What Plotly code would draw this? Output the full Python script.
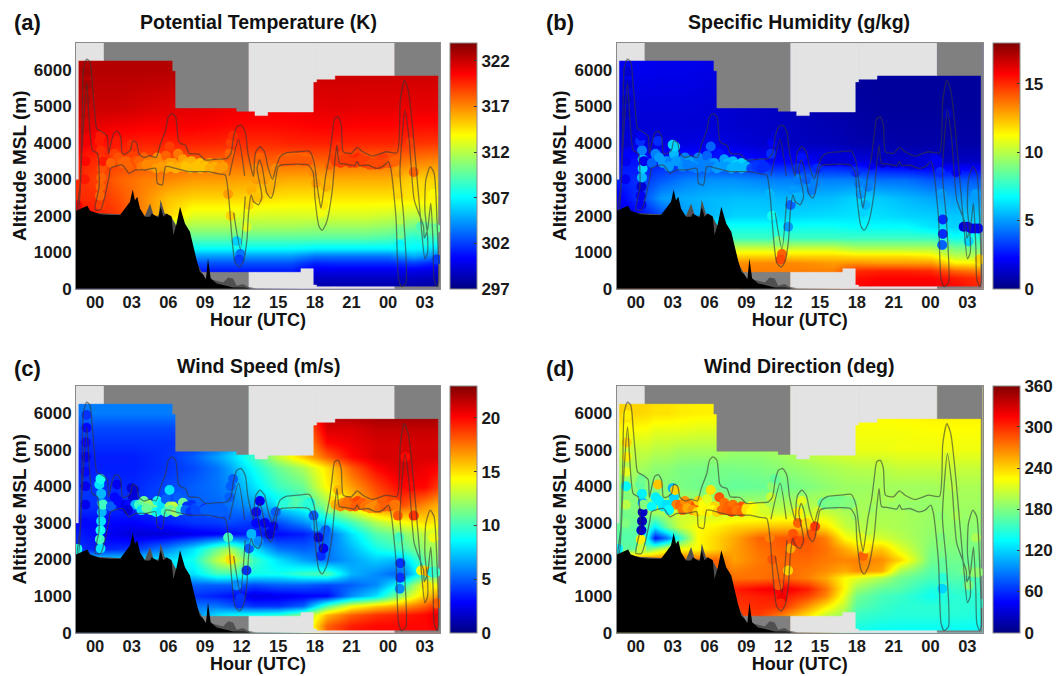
import plotly.graph_objects as go

W, H = 1058, 676
JET = [[0, "rgb(0,0,128)"], [0.125, "rgb(0,0,255)"], [0.375, "rgb(0,255,255)"],
       [0.625, "rgb(255,255,0)"], [0.875, "rgb(255,0,0)"], [1, "rgb(128,0,0)"]]

HOUR_TICKS = [0, 3, 6, 9, 12, 15, 18, 21, 24, 27]
HOUR_LABELS = ["00", "03", "06", "09", "12", "15", "18", "21", "00", "03"]
ALT_TICKS = [0, 1000, 2000, 3000, 4000, 5000, 6000]
X_RANGE = [-1.56, 28.25]
Y_RANGE = [0, 6750]

# day / night bands: start, end, colour
BANDS = [(-1.56, 0.74, "#e3e3e3"), (0.74, 12.6, "#808080"), (12.6, 24.55, "#e3e3e3"), (24.55, 28.25, "#808080")]
# sampled domain: start hour, end hour, top altitude, bottom altitude
DOMAIN = [(-1.37, 6.36, 6260, 0), (6.36, 6.6, 5980, 0), (6.6, 8.5, 4960, 0), (8.5, 11.6, 4960, 450),
          (11.6, 13.1, 4870, 450), (13.1, 14.13, 4750, 450), (14.13, 16.86, 4850, 450),
          (16.86, 17.87, 4850, 550), (17.87, 18.14, 5675, 100), (18.14, 19.64, 5750, 55), (19.64, 28.12, 5850, 55)]

TERRAIN_T = [-1.56, -0.63, -0.41, 0.41, 1.23, 2.05, 2.45, 2.86, 3.08, 3.27, 3.46, 3.68, 4.09, 4.5, 4.64, 5.18, 5.37,
             5.59, 5.86, 6.27, 6.41, 6.68, 6.96, 7.36, 7.77, 8.05, 8.32, 8.59, 8.87, 9.08, 9.25, 9.47, 9.96, 11.32,
             12.14, 12.96]
TERRAIN_A = [2140, 2275, 2140, 2040, 2020, 2020, 2200, 2385, 2725, 2430, 2520, 2200, 1975, 1975, 2065, 1955, 2250,
             1975, 2065, 1975, 1470, 1790, 2250, 1790, 1560, 1150, 785, 465, 375, 255, 830, 285, 145, 35, 35, 0]
RIDGE_T = [-1.56, 0.41, 2.0, 4.09, 4.5, 4.8, 5.2, 5.37, 5.7, 6.2, 9.0, 9.96, 10.5, 10.9, 11.3, 11.6, 12.1, 12.6, 13.2, 17]
RIDGE_A = [2140, 2070, 2040, 2000, 2340, 2000, 2000, 2440, 2060, 2000, 300, 230, 170, 310, 280, 80, 130, 40, 10, 0]

# closed outline of the flight-track tube
TRACK_T = [-1.45, -1.23, -1.06, -0.95, -0.68, -0.41, -0.22, -0.03, 0.14, 0.6, 1.0, 1.1, 1.36, 1.55, 1.83, 2.1, 2.24,
           2.5, 2.9, 3.1, 3.4, 3.6, 4.0, 4.5, 5.0, 5.37, 5.78, 6.0, 6.27, 6.6, 6.82, 7.0, 7.42, 7.7, 8.49, 9.03, 9.85,
           10.8, 11.13, 11.35, 11.62, 11.97, 12.3, 12.52, 12.98, 13.06, 13.17, 13.52, 13.88, 14.15, 14.53, 14.8, 15.16,
           15.7, 16.65, 17.55, 17.93, 18.2, 18.5, 18.7, 18.9, 19.21, 19.4, 19.62, 19.89, 20.16, 20.33, 20.98, 21.47,
           21.93, 22.75, 23.83, 24.73, 25.0, 25.33, 25.65, 26.0, 26.41, 26.74, 27.01, 27.23, 27.23, 27.01, 27.09, 27.45,
           27.77, 27.99, 28.12, 27.99, 27.77, 27.69, 27.5, 27.23, 26.96, 26.9, 26.14, 25.73, 25.38, 24.97, 25.27, 25.46,
           25.11, 24.86, 24.65, 24.24, 24.02, 23.56, 23.02, 22.34, 21.66, 21.47, 21.25, 20.57, 20.02, 19.81, 19.62, 19.4,
           18.94, 18.59, 18.34, 18.0, 17.88, 17.47, 15.3, 15.0, 14.6, 14.4, 14.07, 13.71, 13.47, 13.27, 13.66, 13.39,
           12.98, 12.79, 12.57, 12.44, 12.16, 11.84, 11.48, 11.2, 10.94, 10.66, 10.12, 9.3, 8.78, 7.69, 6.6, 5.78, 5.51,
           5.1, 4.96, 4.15, 3.33, 2.78, 2.24, 1.28, 1.15, 0.74, 0.46, 0.0, 0.33, 0.19, -0.22, -0.68, -1.04, -1.36, -1.45]
TRACK_A = [2170, 2850, 4670, 6030, 6300, 6215, 5580, 4850, 4395, 4300, 4186, 3700, 4077, 4277, 4322, 4168, 3713,
           3700, 3800, 4060, 4000, 3700, 3600, 3650, 3600, 3986, 4350, 4714, 4805, 4714, 4077, 3986, 3940, 3713, 3695,
           3530, 3550, 3576, 3713, 4168, 4440, 4486, 4304, 3713, 3076, 3530, 3758, 3895, 3758, 3349, 3003, 3303, 3622,
           3731, 3758, 3776, 3485, 2803, 2211, 2620, 3121, 3667, 4168, 4668, 4714, 4486, 3758, 3713, 3877, 3758, 3640,
           3758, 3731, 5170, 5715, 5440, 4440, 2890, 1620, 819, 983, 1438, 2166, 2985, 3349, 3167, 1984, 164, 55, 255,
           1165, 2348, 1620, 1392, 1711, 2439, 4077, 4896, 3167, 1984, 164, 55, 255, 1938, 3258, 3485, 3349, 3303, 3394,
           3376, 3490, 3376, 3421, 3440, 3940, 3421, 2620, 1802, 1600, 1711, 2530, 3167, 3394, 3394, 3349, 2620, 2484,
           2620, 3303, 3531, 3303, 2530, 2302, 2393, 2575, 2075, 1347, 755, 591, 710, 1438, 2530, 3121, 3149, 3212,
           3212, 3212, 3303, 3349, 2848, 2894, 3303, 3258, 3258, 3167, 3394, 3303, 3076, 2439, 2166, 2166, 2803, 3713,
           3800, 5624, 3986, 2166, 2170]
# short inner lines where two flights overlap near 12 UTC
INNER_T = [11.0, 11.75, 12.25, None, 11.35, 11.9, 12.3]
INNER_A = [3100, 4090, 3100, None, 2090, 1090, 2530]

OBS_T = [-1.45, -0.85, -0.8, -0.8, -0.8, -0.75, -0.75, -0.7, -0.7,
         .45, .4, .45, .5, .55, .55, .5, .35, .45, .65,
         1.3, 1.6, 1.8, 1.9, 2.2, 2.5, 2.8, 3.0, 3.1, 3.3, 3.2, 2.7,
         3.6, 4.0, 4.4, 4.8, 5.1, 5.5, 5.8, 6.1, 6.1, 6.4, 6.8, 7.2, 7.5, 7.9, 8.2, 8.6, 9.0, 9.4, 9.8, 10.2,
         11.0, 11.1, 11.3, 11.6, 11.9, 11.8, 11.1, 10.9, 12.4, 12.6,
         12.8, 13.0, 13.2, 13.5, 13.9, 14.3, 14.6, 14.8, 13.2, 13.4,
         15.2, 15.6, 16, 16.4, 16.8, 17.2, 17.6,
         17.9, 18.1, 18.3, 18.5, 18.7, 18.9, 19.2,
         19.5, 19.9, 20.3, 20.7, 21.1, 21.5, 21.9, 22.3, 22.7, 23.1, 23.5, 23.9, 24.3, 24.6,
         24.8, 24.9, 25, 25, 24.95, 25.4, 25.8, 26.1, 26.7, 27, 27.1, 27.3, 27.6, 27.9, 27.7, 28.0,
         3.8, 4.2, 4.6, 5.0, 5.4, 5.8, 6.2, 6.6, 7.0, 7.4, 7.8, 8.2, 8.6, 9.0, 9.4, 9.8, 10.2, 10.5,
         15.4, 15.8, 16.2, 16.6, 17.0, 17.4, 19.7, 20.1, 20.5, 20.9, 21.3, 21.7, 22.1, 22.5, 22.9, 23.3, 23.7, 24.1, 24.5]
OBS_A = [2290, 3000, 3500, 4000, 4400, 4800, 5200, 5600, 5950,
         2300, 2550, 2800, 3050, 3300, 3550, 3800, 4050, 4200, 3500,
         3450, 3700, 4050, 3600, 3450, 3500, 3500, 3950, 3700, 3500, 3900, 3350,
         3500, 3600, 3500, 3450, 3600, 3500, 3650, 3900, 3450, 3450, 3700, 3550, 3450, 3500, 3400, 3450, 3400, 3450, 3400, 3450,
         3700, 4000, 4200, 1300, 950, 800, 2000, 2600, 1700, 2300,
         2700, 2500, 3000, 3600, 3000, 2700, 2900, 3300, 3300, 2500,
         3550, 3600, 3600, 3600, 3600, 3600, 3550,
         3200, 2900, 2600, 2100, 2300, 2800, 3400,
         3600, 3900, 3550, 3600, 3550, 3600, 3550, 3500, 3450, 3500, 3600, 3550, 3600, 3500,
         3200, 2600, 1900, 1500, 1200, 4800, 4000, 3200, 1700, 1700, 1300, 1650, 1650, 1650, 2600, 800,
         3350, 3400, 3350, 3300, 3350, 3300, 3350, 3300, 3350, 3350, 3300, 3350, 3300, 3350, 3300, 3350, 3300, 3350,
         3500, 3500, 3500, 3550, 3500, 3500, 3500, 3450, 3500, 3450, 3450, 3500, 3450, 3400, 3400, 3400, 3450, 3450, 3500]
OBS_THETA = [321, 320, 320.5, 321, 321.5, 322, 322.5, 323, 323,
             319, 318, 318, 318, 318.5, 319, 319.5, 320, 320, 320,
             318, 319, 320, 318.5, 318, 318, 318, 319.5, 319, 318.5, 319.5, 318,
             318, 318, 317.5, 317, 317, 317, 318, 319, 316.5, 316.5, 317.5, 316.5, 316, 316, 316, 315.5, 316, 316.5, 317, 317,
             318, 319, 319.5, 306, 303.5, 302, 315, 316.5, 313, 315,
             316, 315.5, 316.5, 318, 316.5, 316, 316, 317, 317, 315.5,
             318, 318, 318, 318, 318, 318, 318,
             317, 316.5, 315, 313.5, 314.5, 316, 318,
             319, 319.5, 319, 319, 319.3, 319.5, 319, 319, 318.8, 318.8, 319, 319, 318.5, 318,
             316.5, 315, 312, 310, 307, 321, 319, 318, 309, 310, 308, 310, 310, 310, 314, 302,
             317.5, 317, 317, 316.5, 316.5, 316.5, 316, 316, 316, 315.5, 315.5, 315.5, 315.5, 315.5, 316, 316, 316.5, 316.5,
             318.3, 318.3, 318.3, 318.3, 318.3, 318.3, 319, 319, 319, 319, 319, 319, 319, 318.7, 318.7, 318.7, 318.7, 318.5, 318]
OBS_Q = [2, 2, 2, 1.5, 1.5, 1.2, 1.2, 1.3, 1.5,
         2, 2, 1.5, 5.5, 6, 5.5, 4.5, 3, 2, 2,
         4, 4.5, 3, 5, 5, 5, 4.5, 6, 5.5, 5, 6, 5,
         5, 4.5, 5, 5, 4.5, 4.5, 4, 4, 4.5, 5, 2.5, 5, 5.5, 5.5, 6, 6, 6, 3, 3, 3,
         3, 2, 1.5, 9, 14, 14.5, 7, 5.5, 5, 4,
         5, 5.5, 4.5, 2.5, 4, 4.5, 4.5, 3, 3, 5.5,
         1.5, 1.5, 1.5, 1.5, 1.5, 1.5, 1.7,
         3, 4.5, 5, 6, 5.5, 4.5, 2,
         1, 1, 1, 1, 1.2, 1.2, 1.2, 1.2, 1.5, 1.5, 1.5, 1.5, 1.7, 2,
         3, 5, 3, 3, 4, 1, 1, 2, 1.5, 2, 6, 2, 2, 2, 5, 12,
         4.8, 4.5, 4.5, 4.5, 4.5, 4.5, 4.5, 5, 5, 5, 5.5, 5.5, 5.5, 5.5, 3.5, 3.2, 3, 3,
         1.5, 1.5, 1.5, 1.5, 1.5, 1.5, 1.2, 1.2, 1.2, 1.2, 1.3, 1.3, 1.3, 1.5, 1.5, 1.5, 1.5, 1.7, 2]
OBS_SPEED = [9, 3, 2.5, 2.5, 3, 2.5, 3, 3, 4,
             8, 10, 9, 8, 7, 6, 7, 8, 9, 10,
             5, 3, 2.5, 3, 3, 2.5, 3, 2, 2, 7, 2, 2,
             10, 11, 12, 12, 9, 8, 5, 8, 12, 13, 5, 11, 4, 4, 4.5, 5, 4, 5, 5, 5,
             5, 5, 5, 6, 4, 4, 15, 10, 4, 5,
             7, 7, 3, 2.5, 2.5, 2, 2.5, 5, 3, 6,
             9, 9.5, 10, 10.5, 10, 10, 9,
             5, 7, 2, 4, 2.5, 5, 12,
             15, 16, 17, 17.5, 18, 18.5, 18, 17.5, 17, 17, 18, 18, 18.5, 17,
             18, 10, 4, 4, 6, 20, 20, 19, 14, 15, 15, 16, 9, 10, 14, 18,
             8, 11, 11, 9, 8, 10, 11, 12, 10, 5, 4, 4.5, 4.5, 5, 5, 5, 5, 5,
             9.5, 9.5, 10, 10.5, 10, 9.5, 16, 17, 17.5, 17.5, 18, 18, 17.5, 17, 17, 17.5, 18, 18, 17.5]
OBS_DIR = [130, 180, 200, 135, 215, 230, 240, 225, 230,
           205, 230, 25, 20, 25, 110, 130, 170, 175, 180,
           135, 130, 245, 130, 130, 125, 125, 110, 120, 270, 240, 135,
           280, 265, 270, 285, 240, 225, 215, 235, 220, 240, 285, 275, 280, 275, 280, 285, 240, 225, 225, 210,
           205, 185, 170, 285, 320, 300, 285, 270, 240, 255,
           285, 295, 280, 215, 240, 285, 295, 210, 230, 290,
           170, 175, 175, 175, 175, 180, 180,
           190, 200, 215, 280, 230, 200, 190,
           195, 195, 195, 195, 195, 190, 190, 190, 188, 188, 188, 188, 188, 188,
           185, 180, 170, 150, 120, 210, 200, 195, 175, 180, 180, 180, 185, 185, 195, 150,
           275, 255, 265, 240, 225, 230, 225, 240, 275, 280, 285, 275, 280, 235, 225, 220, 215, 210,
           175, 178, 178, 178, 180, 182, 192, 192, 192, 190, 190, 190, 188, 188, 188, 188, 188, 188, 188]

GRID_T_AB = [-1.5, 0, 2, 4, 6, 8, 10, 12, 14, 16, 18, 20, 22, 24, 26, 28.3]
GRID_A_AB = [0, 300, 500, 700, 900, 1100, 1400, 1700, 2000, 2500, 3000, 3500, 4000, 4500, 5000, 6000, 6750]
THETA = [
    [300, 300, 300, 300, 300, 300, 299.5, 299.5, 299.5, 299.5, 298, 298, 298, 298, 298, 297.8],
    [300.5, 300.5, 300.5, 300.5, 300.5, 300.5, 300.2, 300.2, 300.2, 300.2, 298.8, 298.8, 298.8, 298.8, 298.8, 298.5],
    [301, 301, 301, 301, 301, 301, 301, 301, 301, 301, 299.8, 299.8, 299.8, 299.8, 299.8, 299.5],
    [302.5, 302.5, 302.5, 302.5, 302.5, 302.5, 302.5, 302.5, 302.5, 302.5, 301.3, 301.5, 301.5, 301.5, 302, 301],
    [304.5, 304.5, 304.5, 304.5, 304.5, 304.5, 304.5, 304.5, 304.5, 304.5, 303.5, 303.5, 303.5, 303.5, 305, 303.5],
    [307, 307, 307, 307, 307, 307, 307, 307, 307, 307, 306.7, 306.7, 306.7, 306.7, 307, 306],
    [309.5, 309.5, 309.5, 309.5, 309.5, 309.5, 309.5, 309.5, 309.5, 309.5, 309.5, 309.5, 309.5, 309.2, 308, 309],
    [311.5, 311.5, 311.5, 311.5, 311.5, 311.5, 311.5, 311.5, 311.5, 311.5, 311.3, 311.3, 311.3, 311, 310, 311],
    [320.5, 320, 319, 317, 315, 313, 313, 313, 312.8, 312.8, 312.8, 312.8, 312.8, 312.5, 312, 312.5],
    [319.5, 319.5, 318.5, 317, 315.5, 315, 315, 315, 314.7, 314.5, 314.5, 314.5, 314.5, 314.5, 314.5, 314],
    [319.5, 319, 318, 317.3, 317, 316.5, 316.5, 316.3, 316.2, 316, 316, 316, 316, 316, 315, 315],
    [320, 319.5, 319, 318.5, 318.5, 318.2, 318, 318, 318, 318, 318, 318, 317.8, 317.8, 317.3, 317],
    [321, 320.5, 320, 319.8, 319.8, 319.8, 319.7, 319.5, 319.5, 319.7, 319.8, 319.8, 319.7, 319.7, 319.3, 319.2],
    [321.5, 321.3, 321, 320.8, 320.8, 320.8, 320.6, 320.4, 320.4, 320.5, 320.7, 320.7, 320.6, 320.6, 320.4, 320.4],
    [322, 322, 322, 321.7, 321.5, 321.4, 321.3, 321, 321, 321, 321.3, 321.4, 321.3, 321.3, 321.2, 321.2],
    [322.6, 322.6, 322.6, 322.6, 322.6, 322.6, 322.3, 322.1, 322, 322, 322, 322, 322, 322, 322, 322],
    [322.6, 322.6, 322.6, 322.6, 322.6, 322.6, 322.3, 322.1, 322, 322, 322, 322, 322, 322, 322, 322],
]
HUMID = [
    [15, 15, 15, 15, 15, 14, 14, 14, 14, 14, 15.8, 16, 16, 16, 15.8, 15],
    [14.5, 14.5, 14.5, 14.5, 14.5, 14.5, 13.8, 13.8, 13.8, 13.8, 15.5, 15.7, 15.7, 15.7, 15.3, 14.8],
    [13.5, 13.5, 13.5, 13.5, 13.5, 13.5, 13.5, 13.5, 13.5, 13.5, 15, 15.2, 15.2, 15, 14, 13.5],
    [13.2, 13.2, 13.2, 13.2, 13.2, 13.2, 13.3, 13.4, 13.2, 13, 13.2, 13, 13, 13, 11.5, 11.5],
    [12, 12, 12, 12, 12, 12, 12, 12, 12, 12, 11.8, 11.8, 11.8, 11.5, 10, 10],
    [10.5, 10.5, 10.5, 10.5, 10.5, 10.5, 10.5, 10.5, 10.5, 10.5, 10, 10, 10, 10, 9, 9],
    [7.8, 7.8, 7.8, 7.8, 7.8, 7.8, 7.8, 7.8, 7.8, 7.8, 7.8, 7.8, 7.8, 7.8, 7, 7.5],
    [7, 7, 7, 7, 7, 7, 7, 7, 7, 7, 6.8, 6.8, 6.8, 6.3, 6, 6],
    [1.5, 2, 3.5, 5, 5.5, 6, 6, 6, 6.1, 6.2, 6.3, 6.2, 6, 5.9, 5.8, 5.8],
    [2, 3, 5, 5.3, 5.5, 5.6, 5.6, 5.5, 5.5, 5.6, 6, 5.8, 5.5, 5.2, 5, 5],
    [2.8, 3, 3.8, 4.5, 4.8, 4.8, 4.6, 4.5, 4.5, 4.5, 4.5, 4.2, 4.2, 3.8, 3.8, 3.8],
    [2.5, 2.5, 2.7, 2.8, 2.8, 2.6, 2.3, 2.2, 2.1, 2, 1.7, 1.5, 1.3, 1.2, 1.2, 1.2],
    [1.7, 1.7, 1.7, 1.7, 1.8, 1.6, 1.4, 1.2, 1.1, 1, .8, .8, .7, .7, .7, .7],
    [1.5, 1.5, 1.5, 1.5, 1.5, 1.4, 1.3, 1.2, 1, .9, .7, .6, .6, .6, .6, .6],
    [1.6, 1.6, 1.6, 1.6, 1.5, 1.4, 1.3, 1.1, .9, .8, .6, .5, .5, .5, .5, .5],
    [2, 2, 1.9, 1.9, 1.8, 1.5, 1.2, .9, .8, .7, .5, .5, .5, .5, .5, .5],
    [2, 2, 1.9, 1.9, 1.8, 1.5, 1.2, .9, .8, .7, .5, .5, .5, .5, .5, .5],
]

GRID_T_C = [-1.5, 0, 3, 6, 8, 10, 11, 13, 15, 17, 19, 21, 23, 25, 27, 28.3]
GRID_A_C = [0, 200, 500, 750, 1000, 1300, 1600, 2000, 2300, 2700, 3000, 3500, 4000, 4500, 4800, 5200, 5600, 6000, 6750]
SPEED = [
    [5, 5, 5, 5, 6, 8, 8, 9, 9, 11, 18, 19.5, 20, 20, 20, 20],
    [5, 5, 5, 5, 6, 8, 8.5, 9, 9.5, 12, 18, 19.5, 20, 20, 20, 20.5],
    [5, 5, 5, 5, 6, 8, 8.5, 9, 9.5, 11.5, 16, 18, 19, 19.5, 20, 21],
    [5, 5, 5, 5, 5.5, 5.5, 5, 4, 4, 5, 10.5, 14, 15.5, 16.5, 18, 19.5],
    [5, 5, 5, 5, 4, 3.5, 3.2, 2.2, 2.5, 2.8, 3, 6, 8, 12, 15.5, 17],
    [6, 6, 6, 6, 5, 5, 5, 4.5, 5, 5, 4.5, 5, 6, 9, 14.5, 14],
    [8, 8, 8, 8, 8, 10, 10, 9, 9, 10, 10.5, 7, 6, 5, 10, 11],
    [8, 8, 8, 8, 9, 13, 14.5, 10, 8, 6.5, 5.5, 6.5, 7.5, 7, 11, 12],
    [4, 3.5, 4, 6, 8, 11, 12.5, 8, 5.5, 5, 5.5, 7, 9, 10, 12, 12.5],
    [3.5, 3, 2, 2, 2.5, 2.8, 3, 3.5, 3, 3.5, 5, 8, 10.5, 11.5, 13, 13.5],
    [3, 3, 2.8, 3.5, 4, 4.2, 4.5, 4, 4.5, 6, 8, 10, 12.5, 14, 15, 14.5],
    [4, 4, 4, 4.5, 5, 5.2, 5.5, 6.5, 8, 9.5, 12, 15, 17.5, 18.5, 17, 16],
    [4, 4, 3.7, 4.5, 5, 5.5, 6, 8, 10, 11, 14.5, 16.5, 18.5, 20, 20, 18.5],
    [3.5, 3.5, 3.5, 4, 4.5, 5.5, 6.5, 9, 11, 12.5, 15, 18, 20, 21, 20.5, 20],
    [3.5, 3.5, 3.5, 4, 5, 6.5, 7.5, 10, 13, 15.5, 18, 20, 21, 21, 21, 21],
    [4, 4, 4, 4, 4, 5, 6, 8, 12, 16, 20, 20.5, 21, 21, 21, 21],
    [4.5, 4.5, 4.5, 4.5, 4.5, 5, 6, 8, 12, 17, 21, 21, 21.5, 21.5, 21.5, 21.5],
    [5.5, 5.7, 5.7, 5.7, 5.7, 6, 6, 8, 12, 17, 22, 22.2, 22.5, 22.5, 22.5, 22.5],
    [5.5, 5.7, 5.7, 5.7, 5.7, 6, 6, 8, 12, 17, 22, 22.2, 22.5, 22.5, 22.5, 22.5],
]

GRID_T_D = [-1.5, 0, 1, 1.5, 2.5, 3.5, 5, 6.5, 8, 10, 12, 14, 15.5, 17, 18, 20, 21.5, 24, 26, 28.3]
GRID_A_D = [0, 500, 700, 1000, 1200, 1500, 1700, 2000, 2300, 2600, 2900, 3300, 4000, 4500, 5000, 5500, 6000, 6750]
DIRECTION = [
    [230, 230, 230, 230, 230, 230, 230, 260, 290, 295, 290, 250, 215, 165, 140, 135, 135, 135, 135, 135],
    [280, 280, 280, 280, 280, 280, 280, 280, 290, 295, 270, 235, 205, 190, 155, 150, 148, 148, 148, 145],
    [280, 280, 280, 280, 280, 280, 280, 280, 295, 300, 295, 260, 230, 200, 165, 155, 150, 150, 150, 148],
    [280, 280, 280, 280, 280, 280, 280, 280, 300, 305, 308, 292, 268, 215, 175, 160, 155, 140, 150, 150],
    [280, 280, 280, 280, 280, 280, 280, 280, 305, 315, 322, 305, 275, 225, 190, 170, 165, 145, 155, 155],
    [280, 280, 280, 280, 280, 280, 280, 280, 275, 275, 280, 270, 255, 225, 215, 195, 175, 160, 165, 160],
    [280, 280, 280, 280, 280, 280, 280, 280, 270, 275, 278, 272, 265, 255, 265, 255, 195, 165, 170, 170],
    [280, 280, 280, 280, 280, 280, 280, 280, 258, 272, 278, 278, 272, 268, 270, 265, 240, 175, 175, 175],
    [170, 170, 175, 190, 215, 225, 225, 240, 258, 275, 282, 283, 275, 255, 240, 245, 215, 180, 180, 178],
    [165, 165, 130, 50, 85, 145, 225, 240, 255, 280, 285, 285, 270, 225, 215, 210, 200, 185, 185, 180],
    [170, 170, 160, 130, 175, 205, 225, 230, 240, 245, 248, 248, 235, 205, 198, 198, 195, 188, 186, 185],
    [175, 180, 190, 195, 200, 210, 205, 205, 205, 205, 205, 205, 205, 195, 195, 195, 195, 190, 190, 190],
    [185, 185, 180, 180, 180, 178, 175, 175, 170, 172, 175, 180, 185, 190, 190, 192, 192, 192, 195, 195],
    [195, 195, 190, 185, 185, 180, 178, 178, 178, 180, 185, 190, 195, 198, 200, 200, 205, 205, 205, 205],
    [210, 205, 205, 200, 200, 195, 195, 195, 190, 190, 195, 205, 210, 215, 218, 218, 220, 220, 220, 220],
    [225, 222, 220, 215, 215, 215, 212, 212, 212, 212, 212, 215, 218, 220, 222, 222, 222, 224, 224, 224],
    [240, 240, 238, 235, 235, 232, 230, 230, 228, 228, 226, 226, 226, 226, 226, 226, 228, 230, 230, 230],
    [240, 240, 238, 235, 235, 232, 230, 230, 228, 228, 226, 226, 226, 226, 226, 226, 228, 230, 230, 230],
]

PANELS = [
    dict(tag="(a)", title="Potential Temperature (K)", x=GRID_T_AB, y=GRID_A_AB, z=THETA, obs=OBS_THETA,
         zmin=297, zmax=324, ticks=[297, 302, 307, 312, 317, 322], left=76, right=440, top=42.7, bottom=288.7,
         cb=450, tagx=12, tagy=22, titlex=258, titley=22),
    dict(tag="(b)", title="Specific Humidity (g/kg)", x=GRID_T_AB, y=GRID_A_AB, z=HUMID, obs=OBS_Q,
         zmin=0, zmax=18, ticks=[0, 5, 10, 15], left=616.7, right=982.7, top=42.7, bottom=288.7,
         cb=993, tagx=544, tagy=22, titlex=799, titley=22),
    dict(tag="(c)", title="Wind Speed (m/s)", x=GRID_T_C, y=GRID_A_C, z=SPEED, obs=OBS_SPEED,
         zmin=0, zmax=23, ticks=[0, 5, 10, 15, 20], left=76, right=440, top=385.7, bottom=632.7,
         cb=450, tagx=12, tagy=369, titlex=258, titley=366),
    dict(tag="(d)", title="Wind Direction (deg)", x=GRID_T_D, y=GRID_A_D, z=DIRECTION, obs=OBS_DIR,
         zmin=0, zmax=360, ticks=[0, 60, 120, 180, 240, 300, 360], left=616.7, right=982.7, top=385.7, bottom=632.7,
         cb=993, tagx=544, tagy=369, titlex=799, titley=366),
]

FONT = "Liberation Sans, Arial, sans-serif"
TICKFONT = dict(family=FONT, size=17, color="#1a1a1a", weight="bold")
XTICKFONT = dict(family=FONT, size=16.5, color="#1a1a1a", weight="bold")
fig = go.Figure()
layout = {}
annotations = []


def band_mask(b0, b1, color, suffix):
    xs, ys = [], []

    def rect(x0, x1, y0, y1):
        a, c = max(x0, b0), min(x1, b1)
        if c > a and y1 > y0:
            xs.extend([a, c, c, a, a, None])
            ys.extend([y0, y0, y1, y1, y0, None])

    for s0, s1, top, bot in DOMAIN:
        rect(s0, s1, top, Y_RANGE[1])
        rect(s0, s1, 0, bot)
    rect(X_RANGE[0], DOMAIN[0][0], 3000, Y_RANGE[1])
    rect(DOMAIN[-1][1], X_RANGE[1], 0, Y_RANGE[1])
    return go.Scatter(x=xs, y=ys, mode="lines", fill="toself", fillcolor=color, line=dict(width=0.5, color=color),
                      hoverinfo="skip", showlegend=False, xaxis="x" + suffix, yaxis="y" + suffix)


for i, p in enumerate(PANELS):
    s = "" if i == 0 else str(i + 1)
    fig.add_trace(go.Heatmap(
        x=p["x"], y=p["y"], z=p["z"], zmin=p["zmin"], zmax=p["zmax"], colorscale=JET, zsmooth="best",
        hoverinfo="skip", xaxis="x" + s, yaxis="y" + s,
        colorbar=dict(x=p["cb"] / W, xanchor="left", xpad=0, ypad=0, thickness=27, thicknessmode="pixels",
                      y=1 - p["bottom"] / H, yanchor="bottom", len=(p["bottom"] - p["top"]) / H, lenmode="fraction",
                      tickvals=p["ticks"], ticks="inside", ticklen=3, tickcolor="#333333", tickwidth=1,
                      outlinecolor="#8a8a8a", outlinewidth=1, tickfont=TICKFONT)))
    for b0, b1, col in BANDS:
        fig.add_trace(band_mask(b0, b1, col, s))
    fig.add_trace(go.Scatter(x=OBS_T, y=OBS_A, mode="markers", hoverinfo="skip", showlegend=False,
                             xaxis="x" + s, yaxis="y" + s,
                             marker=dict(size=10, color=p["obs"], cmin=p["zmin"], cmax=p["zmax"], colorscale=JET,
                                         showscale=False, line=dict(width=0))))
    fig.add_trace(go.Scatter(x=RIDGE_T, y=RIDGE_A, mode="lines", fill="tozeroy", fillcolor="#505050",
                             line=dict(width=0), hoverinfo="skip", showlegend=False, xaxis="x" + s, yaxis="y" + s))
    fig.add_trace(go.Scatter(x=TERRAIN_T, y=TERRAIN_A, mode="lines", fill="tozeroy", fillcolor="#000000",
                             line=dict(width=0), hoverinfo="skip", showlegend=False, xaxis="x" + s, yaxis="y" + s))
    for tx, ty in ((TRACK_T, TRACK_A), (INNER_T, INNER_A)):
        fig.add_trace(go.Scatter(x=tx, y=ty, mode="lines", line=dict(width=1.3, color="rgba(55,55,55,0.6)", shape="spline", smoothing=0.6),
                                 hoverinfo="skip", showlegend=False, xaxis="x" + s, yaxis="y" + s, connectgaps=False))
    layout["xaxis" + s] = dict(domain=[p["left"] / W, p["right"] / W], range=X_RANGE, tickvals=HOUR_TICKS,
                               ticktext=HOUR_LABELS, ticks="", showgrid=False, zeroline=False, showline=True,
                               mirror=True, linecolor="#8a8a8a", linewidth=1, tickfont=XTICKFONT, anchor="y" + s,
                               ticklabelstandoff=-2,
                               title=dict(text="Hour (UTC)", font=dict(family=FONT, size=18, color="#111111", weight="bold"), standoff=3))
    layout["yaxis" + s] = dict(domain=[1 - p["bottom"] / H, 1 - p["top"] / H], range=Y_RANGE, tickvals=ALT_TICKS,
                               tickformat="d", ticks="", showgrid=False, zeroline=False, showline=True, mirror=True,
                               linecolor="#8a8a8a", linewidth=1, tickfont=TICKFONT, anchor="x" + s,
                               title=dict(text="Altitude MSL (m)", font=dict(family=FONT, size=19, color="#111111", weight="bold"), standoff=2))
    annotations.append(dict(text=p["tag"], x=p["tagx"] / W, y=1 - p["tagy"] / H, xref="paper", yref="paper",
                            xanchor="left", yanchor="middle", showarrow=False,
                            font=dict(family=FONT, size=22, color="#111111", weight="bold")))
    annotations.append(dict(text=p["title"], x=p["titlex"] / W, y=1 - p["titley"] / H, xref="paper", yref="paper",
                            xanchor="center", yanchor="middle", showarrow=False,
                            font=dict(family=FONT, size=19.5, color="#111111", weight="bold")))

fig.update_layout(width=W, height=H, margin=dict(l=0, r=0, t=0, b=0, autoexpand=False), paper_bgcolor="white", plot_bgcolor="white",
                  annotations=annotations, showlegend=False, **layout)
fig.write_html("out.html", config={"displayModeBar": False}, post_script="document.body.style.margin='0';")
